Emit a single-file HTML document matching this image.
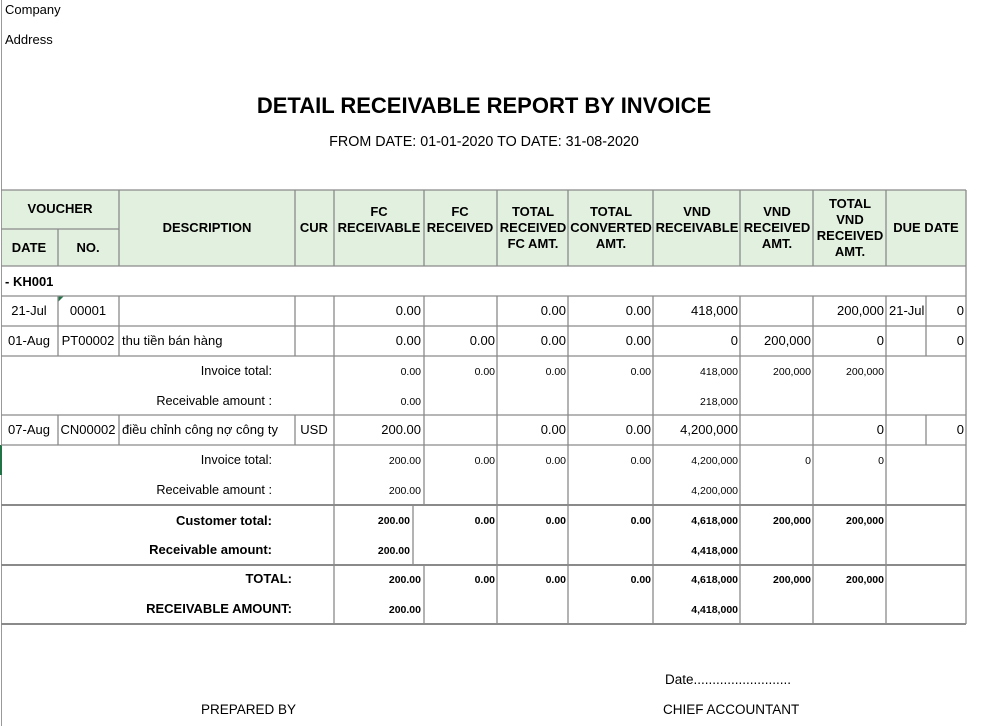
<!DOCTYPE html>
<html><head><meta charset="utf-8"><style>
body{margin:0;background:#fff;width:982px;height:726px;overflow:hidden}
svg{display:block;font-family:"Liberation Sans",Arial,sans-serif}
.h{font-weight:bold;font-size:13px;text-anchor:middle}
.d{font-size:13px}
.s{font-size:10.5px;text-anchor:end}
.sb{font-size:10.5px;font-weight:bold;text-anchor:end}
.r{text-anchor:end}.c{text-anchor:middle}
</style></head><body>
<svg width="982" height="726" viewBox="0 0 982 726">
<rect x="1" y="190" width="965" height="76" fill="#e2f0df"/>
<line x1="1.5" y1="0" x2="1.5" y2="726" stroke="#999"/>
<rect x="0" y="445" width="2" height="30" fill="#217346"/>
<polygon points="58,296 64,296 58,302" fill="#217346"/>
<g stroke="#8a8a8a" stroke-width="1.3">
<path d="M1 190H966M1 266H966M1 296H966M1 326H966M1 356H966M1 415H966M1 445H966M1 229H119"/>
<path d="M1 505H966M1 565H966M1 624H966" stroke-width="2"/>
<path d="M966 190V624M58 229V266M119 190V266M295 190V266M334 190V266M424 190V266M497 190V266M568 190V266M653 190V266M740 190V266M813 190V266M886 190V266"/>
<path d="M58 296V356M119 296V356M295 296V356M334 296V356M424 296V356M497 296V356M568 296V356M653 296V356M740 296V356M813 296V356M886 296V356M926 296V356"/>
<path d="M58 415V445M119 415V445M295 415V445M334 415V445M424 415V445M497 415V445M568 415V445M653 415V445M740 415V445M813 415V445M886 415V445M926 415V445"/>
<path d="M334 356V415M424 356V415M497 356V415M568 356V415M653 356V415M740 356V415M813 356V415M886 356V415"/>
<path d="M334 445V505M424 445V505M497 445V505M568 445V505M653 445V505M740 445V505M813 445V505M886 445V505"/>
<path d="M334 505V565M413 505V565M497 505V565M568 505V565M653 505V565M740 505V565M813 505V565M886 505V565"/>
<path d="M334 565V624M424 565V624M497 565V624M568 565V624M653 565V624M740 565V624M813 565V624M886 565V624"/>
</g>
<text x="5" y="14" font-size="13">Company</text>
<text x="5" y="44" font-size="13">Address</text>
<text x="484" y="113" font-size="22" font-weight="bold" text-anchor="middle">DETAIL RECEIVABLE REPORT BY INVOICE</text>
<text x="484" y="146" font-size="14.3" text-anchor="middle">FROM DATE: 01-01-2020 TO DATE: 31-08-2020</text>
<g class="h">
<text x="60" y="213" class="h">VOUCHER</text>
<text x="29" y="252" class="h">DATE</text><text x="88" y="252" class="h">NO.</text>
<text x="207" y="232" class="h">DESCRIPTION</text>
<text x="314" y="232" class="h">CUR</text>
<text x="379" y="216" class="h">FC</text><text x="379" y="232" class="h">RECEIVABLE</text>
<text x="460" y="216" class="h">FC</text><text x="460" y="232" class="h">RECEIVED</text>
<text x="533" y="216" class="h">TOTAL</text><text x="533" y="232" class="h">RECEIVED</text><text x="533" y="248" class="h">FC AMT.</text>
<text x="611" y="216" class="h">TOTAL</text><text x="611" y="232" class="h">CONVERTED</text><text x="611" y="248" class="h">AMT.</text>
<text x="697" y="216" class="h">VND</text><text x="697" y="232" class="h">RECEIVABLE</text>
<text x="777" y="216" class="h">VND</text><text x="777" y="232" class="h">RECEIVED</text><text x="777" y="248" class="h">AMT.</text>
<text x="850" y="208" class="h">TOTAL</text><text x="850" y="224" class="h">VND</text><text x="850" y="240" class="h">RECEIVED</text><text x="850" y="256" class="h">AMT.</text>
<text x="926" y="232" class="h">DUE DATE</text>
</g>
<text x="5" y="286" font-size="13" font-weight="bold">- KH001</text>
<g class="d">
<text x="29" y="315" class="c">21-Jul</text><text x="88" y="315" class="c">00001</text>
<text x="421" y="315" class="r">0.00</text><text x="566" y="315" class="r">0.00</text><text x="651" y="315" class="r">0.00</text>
<text x="738" y="315" class="r">418,000</text><text x="884" y="315" class="r">200,000</text><text x="889" y="315">21-Jul</text><text x="964" y="315" class="r">0</text>
<text x="29" y="345" class="c">01-Aug</text><text x="88" y="345" class="c">PT00002</text><text x="122" y="345">thu tiền bán hàng</text>
<text x="421" y="345" class="r">0.00</text><text x="495" y="345" class="r">0.00</text><text x="566" y="345" class="r">0.00</text><text x="651" y="345" class="r">0.00</text>
<text x="738" y="345" class="r">0</text><text x="811" y="345" class="r">200,000</text><text x="884" y="345" class="r">0</text><text x="964" y="345" class="r">0</text>
<text x="29" y="434" class="c">07-Aug</text><text x="88" y="434" class="c">CN00002</text><text x="122" y="434">điều chỉnh công nợ công ty</text>
<text x="314" y="434" class="c">USD</text><text x="421" y="434" class="r">200.00</text><text x="566" y="434" class="r">0.00</text><text x="651" y="434" class="r">0.00</text>
<text x="738" y="434" class="r">4,200,000</text><text x="884" y="434" class="r">0</text><text x="964" y="434" class="r">0</text>
</g>
<text x="272" y="375" font-size="12.7" text-anchor="end">Invoice total:</text>
<text x="272" y="405" font-size="12.7" text-anchor="end">Receivable amount :</text>
<text x="421" y="375" class="s">0.00</text><text x="495" y="375" class="s">0.00</text><text x="566" y="375" class="s">0.00</text><text x="651" y="375" class="s">0.00</text>
<text x="738" y="375" class="s">418,000</text><text x="811" y="375" class="s">200,000</text><text x="884" y="375" class="s">200,000</text>
<text x="421" y="405" class="s">0.00</text><text x="738" y="405" class="s">218,000</text>
<text x="272" y="464" font-size="12.7" text-anchor="end">Invoice total:</text>
<text x="272" y="494" font-size="12.7" text-anchor="end">Receivable amount :</text>
<text x="421" y="464" class="s">200.00</text><text x="495" y="464" class="s">0.00</text><text x="566" y="464" class="s">0.00</text><text x="651" y="464" class="s">0.00</text>
<text x="738" y="464" class="s">4,200,000</text><text x="811" y="464" class="s">0</text><text x="884" y="464" class="s">0</text>
<text x="421" y="494" class="s">200.00</text><text x="738" y="494" class="s">4,200,000</text>
<text x="272" y="525" font-size="13" font-weight="bold" text-anchor="end">Customer total:</text>
<text x="272" y="554" font-size="13" font-weight="bold" text-anchor="end">Receivable amount:</text>
<text x="410" y="524" class="sb">200.00</text><text x="495" y="524" class="sb">0.00</text><text x="566" y="524" class="sb">0.00</text><text x="651" y="524" class="sb">0.00</text>
<text x="738" y="524" class="sb">4,618,000</text><text x="811" y="524" class="sb">200,000</text><text x="884" y="524" class="sb">200,000</text>
<text x="410" y="554" class="sb">200.00</text><text x="738" y="554" class="sb">4,418,000</text>
<text x="292" y="583" font-size="13" font-weight="bold" text-anchor="end">TOTAL:</text>
<text x="292" y="613" font-size="13" font-weight="bold" text-anchor="end">RECEIVABLE AMOUNT:</text>
<text x="421" y="583" class="sb">200.00</text><text x="495" y="583" class="sb">0.00</text><text x="566" y="583" class="sb">0.00</text><text x="651" y="583" class="sb">0.00</text>
<text x="738" y="583" class="sb">4,618,000</text><text x="811" y="583" class="sb">200,000</text><text x="884" y="583" class="sb">200,000</text>
<text x="421" y="613" class="sb">200.00</text><text x="738" y="613" class="sb">4,418,000</text>
<text x="665" y="684" font-size="13.5">Date..........................</text>
<text x="201" y="714" font-size="13.5">PREPARED BY</text>
<text x="663" y="714" font-size="13.5">CHIEF ACCOUNTANT</text>
</svg>
</body></html>
